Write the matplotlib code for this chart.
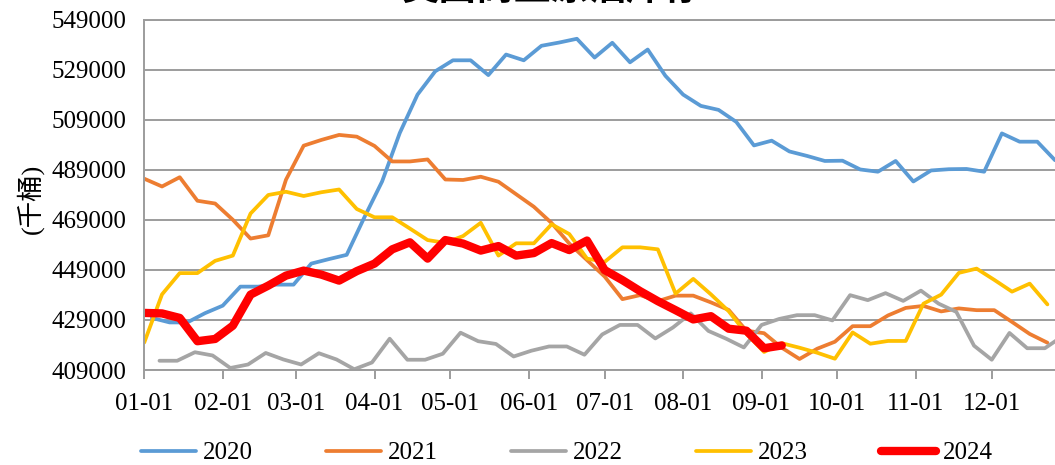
import numpy as np
import pandas as pd
import matplotlib
matplotlib.use("Agg")
import matplotlib.pyplot as plt
from matplotlib.lines import Line2D

# Weekly US commercial crude stocks (thousand barrels), one list per year
years = ["2020", "2021", "2022", "2023", "2024"]
first_dates = ["01-04", "01-01", "01-07", "01-01", "01-01"]   # mm-dd of first weekly reading

stocks_2020 = [429800, 428000, 428000, 431700, 434700, 442300, 442300, 443100, 443100, 451500,
               453300, 455000, 470000, 484300, 503700, 519000, 528300, 532700, 532700, 526800,
               535000, 532700, 538500, 539800, 541300, 533800, 539700, 531900, 537000, 526500,
               519000, 514500, 512900, 508100, 498700, 500600, 496300, 494500, 492500, 492600,
               489100, 488200, 492500, 484300, 488700, 489200, 489300, 488200, 503500, 500200,
               500200, 492800]
stocks_2021 = [485400, 482300, 486000, 476600, 475500, 469000, 461500, 462800, 485000, 498600,
               500900, 502900, 502200, 498500, 492300, 492300, 493100, 485100, 484900, 486200,
               484200, 479200, 474200, 467700, 459500, 452900, 446300, 437300, 438900, 436500,
               438700, 438700, 436000, 433000, 424700, 423700, 417900, 413400, 417500, 420300,
               426500, 426500, 430800, 433800, 434600, 432400, 433600, 432900, 432900, 428200,
               423400, 419900]
stocks_2022 = [412700, 412700, 416100, 414800, 409800, 411200, 415800, 413200, 411200, 415700,
               413200, 409300, 412000, 421500, 413100, 413100, 415500, 423900, 420500, 419400,
               414400, 416700, 418400, 418400, 415100, 423200, 427000, 427000, 421600, 426000,
               431600, 424600, 421500, 418000, 427000, 429400, 430900, 430900, 428800, 438900,
               436900, 439700, 436600, 440700, 435500, 432200, 418700, 413100, 423800, 417700,
               417700, 422500]
stocks_2023 = [420000, 439200, 447700, 447700, 452600, 454700, 471500, 478900, 480200, 478500,
               480000, 481100, 473300, 470000, 470000, 465500, 460900, 459800, 462500, 467800,
               454700, 459600, 459600, 467200, 463300, 453500, 452200, 458000, 458000, 457200,
               439500, 445400, 439200, 432500, 423500, 416200, 419700, 417900, 415900, 413500,
               424000, 419500, 420600, 420600, 435500, 439100, 447800, 449500, 445000, 440300,
               443500, 435200]
stocks_2024 = [431800, 431600, 429800, 420500, 421400, 426700, 439100, 442700, 446700, 448700,
               447100, 444700, 448500, 451500, 457200, 460000, 453500, 460900, 459500, 456700,
               458500, 454700, 455700, 459700, 456900, 460700, 448900, 444900, 440500, 436500,
               432900, 429200, 430500, 425500, 424700, 417700, 418800]

y_ticks = list(range(409000, 549001, 20000))
month_labels = ["01-01", "02-01", "03-01", "04-01", "05-01", "06-01",
                "07-01", "08-01", "09-01", "10-01", "11-01", "12-01"]

series = [stocks_2020, stocks_2021, stocks_2022, stocks_2023, stocks_2024]
colors = ["#5B9BD5", "#ED7D31", "#A5A5A5", "#FFC000", "#FF0000"]
widths = [2.7, 2.7, 2.7, 2.7, 6.0]

SERIF = ["Liberation Serif", "Noto Sans CJK SC", "DejaVu Sans"]
plt.rcParams["font.family"] = SERIF

# every year is laid on a common calendar, x = days since 01-01
base = pd.Timestamp("2024-01-01")

def day_positions(first, n):
    dates = pd.date_range(pd.Timestamp("2024-" + first), periods=n, freq="7D")
    return np.asarray((dates - base).days, dtype=float)

month_days = [(pd.Timestamp("2024-" + m) - base).days for m in month_labels]

W, H = 1055, 465
fig = plt.figure(figsize=(W / 100, H / 100), dpi=100)
left_px, right_px, top_px, bot_px = 144.3, 1055, 19.5, 370
ax = fig.add_axes([left_px / W, 1 - bot_px / H, (right_px - left_px) / W, (bot_px - top_px) / H])

for vals, first, c, lw in zip(series, first_dates, colors, widths):
    x = day_positions(first, len(vals))
    ax.plot(x, vals, color=c, lw=lw, solid_capstyle="round", solid_joinstyle="round")

ax.set_xlim(0, 360)
ax.set_ylim(409000, 549000)
ax.set_yticks(y_ticks)
ax.set_yticklabels([str(v) for v in y_ticks])
ax.set_xticks(month_days)
ax.set_xticklabels(month_labels)

grid_c = "#9C9C9C"
ax.grid(axis="y", color=grid_c, lw=1.4)
ax.set_axisbelow(True)
ax.spines["right"].set_visible(False)
for s in ["top", "bottom", "left"]:
    ax.spines[s].set_color(grid_c)
    ax.spines[s].set_linewidth(1.4)

ax.tick_params(axis="y", length=0, pad=13, labelsize=18)
ax.tick_params(axis="x", length=6.5, width=1.4, color=grid_c, direction="out", pad=10, labelsize=18)

fig.text(30 / W, 1 - 199 / H, "(千桶)", rotation=90, ha="center", va="center", fontsize=19)
# chart title sits at the very top edge of the canvas
fig.text(552 / W, 1 - 1 / H, "美国商业原油库存", ha="center", va="baseline", fontsize=27,
         family=["Noto Sans CJK SC"], weight="bold")

handles = [Line2D([], [], color=c, lw=lw, solid_capstyle="round") for c, lw in zip(colors, widths)]
fig.legend(handles, years, loc="center", bbox_to_anchor=(567 / W, 1 - 453 / H), ncol=5,
           frameon=False, fontsize=18, handlelength=2.2, handletextpad=0.3, columnspacing=2.9)

fig.savefig("out.png", dpi=100)
